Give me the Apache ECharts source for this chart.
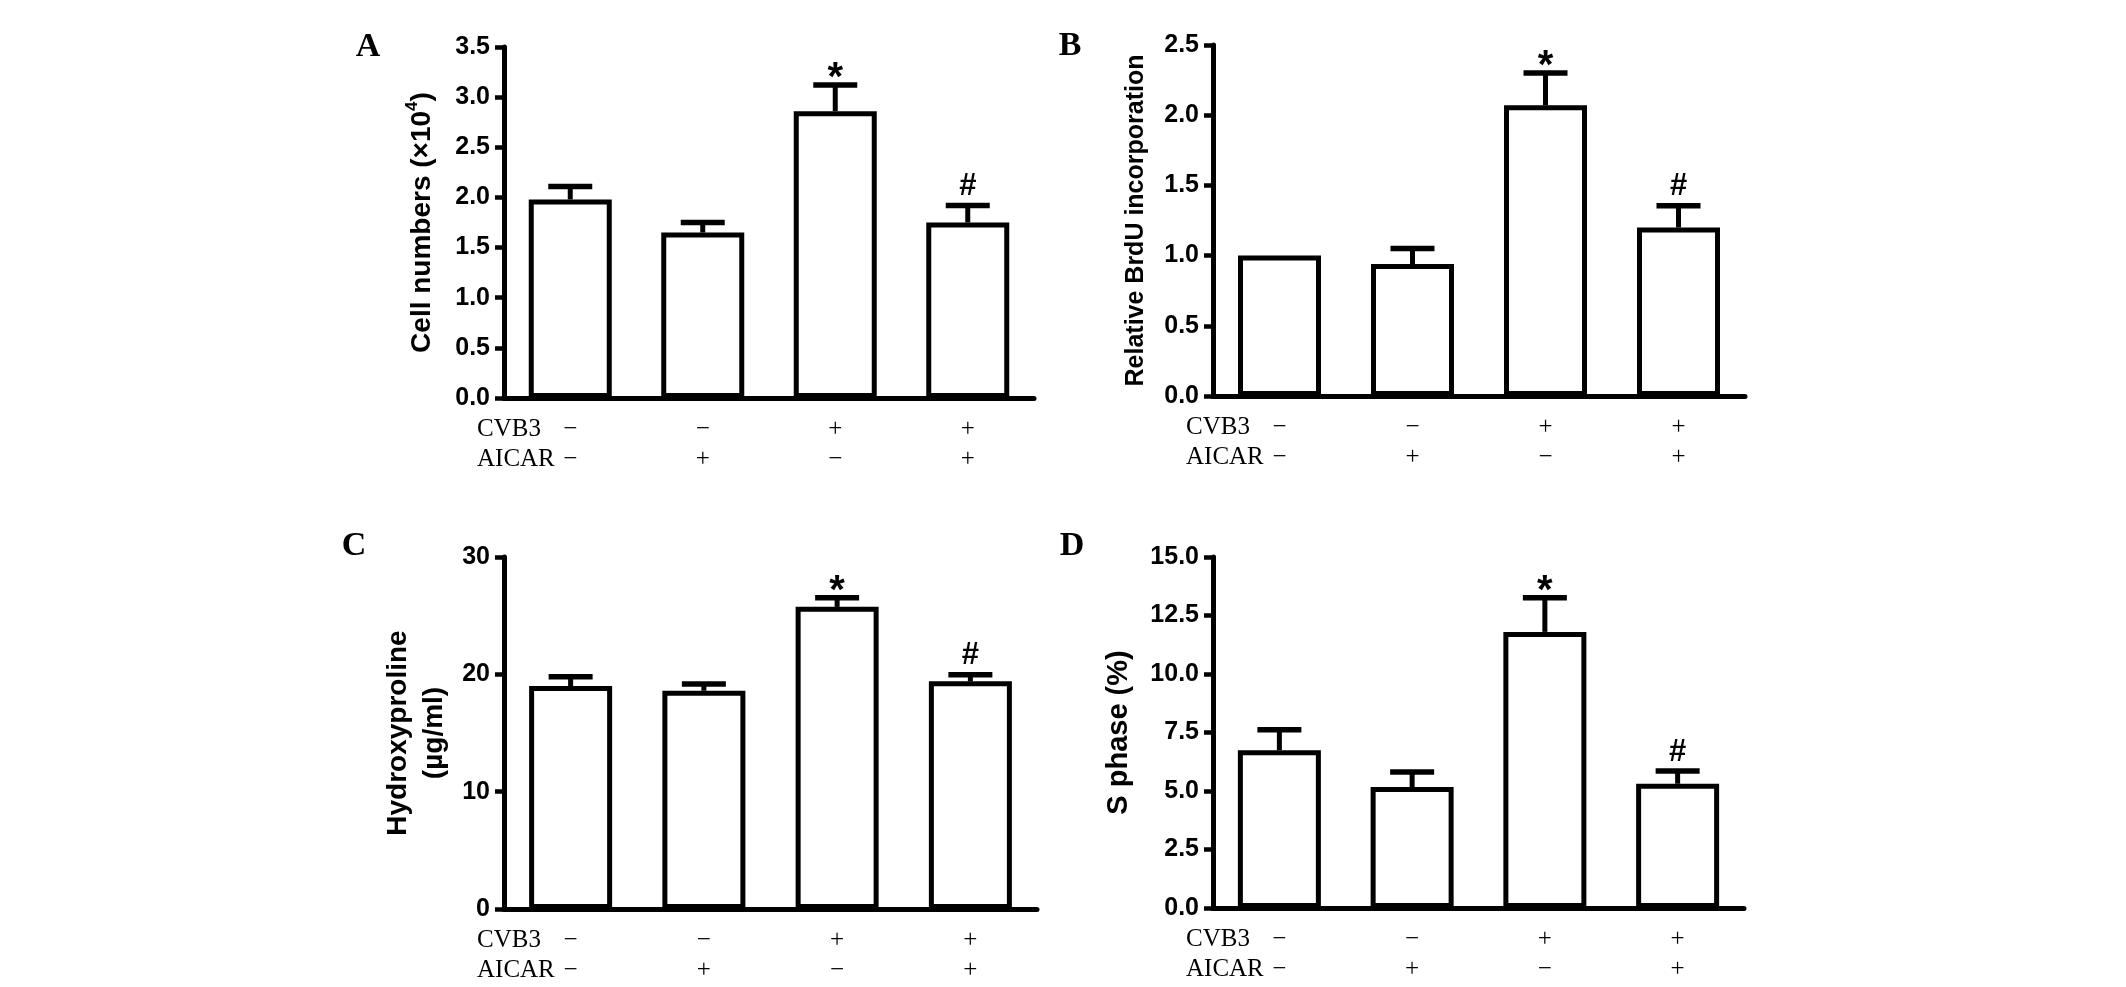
<!DOCTYPE html>
<html>
<head>
<meta charset="utf-8">
<script src="https://cdn.jsdelivr.net/npm/echarts@6/dist/echarts.min.js"></script>
<style>
html,body{margin:0;padding:0;background:#fff;}
#chart{width:2126px;height:987px;}
</style>
</head>
<body>
<div id="chart"></div>
<script>
// ---- data ----
const cvb3Signs = ['−', '−', '+', '+'];
const aicarSigns = ['−', '+', '−', '+'];
const rowNames = ['CVB3', 'AICAR'];
const sigMarks = ['', '', '*', '#'];

const cellMean = [1.98, 1.65, 2.86, 1.75];
const cellErr  = [0.13, 0.10, 0.26, 0.17];

const brduMean = [1.00, 0.94, 2.07, 1.20];
const brduErr  = [0, 0.11, 0.23, 0.155];

const hypMean = [19.0, 18.6, 25.75, 19.4];
const hypErr  = [0.8, 0.57, 0.77, 0.57];

const sMean = [6.74, 5.17, 11.8, 5.31];
const sErr  = [0.88, 0.64, 1.46, 0.54];

const panelLetters = ['A', 'B', 'C', 'D'];
const yTitles = [
  '{a|Cell numbers (×10}{s|4}{a|)}',
  'Relative BrdU incorporation',
  'Hydroxyproline\n(µg/ml)',
  'S phase (%)'
];
const yMaxes = [3.5, 2.5, 30, 15];
const yIntervals = [0.5, 0.5, 10, 2.5];
const yDecimals = [1, 1, 0, 1];

// ---- layout ----
const grids = [
  {left: 504, top: 47, width: 530, height: 351},
  {left: 1213, top: 45, width: 532, height: 351},
  {left: 504, top: 557, width: 533, height: 352},
  {left: 1213, top: 557, width: 531, height: 351}
];
const nameGaps = [64, 59, 52, 76];
const nameSizes = [28, 25, 28, 29];
const letterPos = [[368, 47], [1070, 46], [354, 546], [1072, 546]];

const means = [cellMean, brduMean, hypMean, sMean];
const errs = [cellErr, brduErr, hypErr, sErr];
const categories = cvb3Signs.map((c, i) => c + '\n' + aicarSigns[i]);

const SANS = '"Liberation Sans", Arial, sans-serif';
const SERIF = '"Liberation Serif", "Times New Roman", serif';

function makeRender(p) {
  return function (params, api) {
    const i = params.dataIndex;
    const m = api.value(1), e = api.value(2);
    const base = api.coord([api.value(0), m]);
    const top = api.coord([api.value(0), m + e]);
    const children = [];
    if (e > 0) {
      children.push({type: 'line', shape: {x1: base[0], y1: base[1], x2: top[0], y2: top[1]},
        style: {stroke: '#000', lineWidth: 5}});
      children.push({type: 'line', shape: {x1: top[0] - 22, y1: top[1], x2: top[0] + 22, y2: top[1]},
        style: {stroke: '#000', lineWidth: 5.5}});
    }
    const mk = sigMarks[i];
    if (mk) {
      const isStar = mk === '*';
      children.push({type: 'text', x: top[0], y: top[1] - (isStar ? 6 : 19),
        style: {text: mk, fill: '#000', align: 'center', verticalAlign: 'middle',
          font: (isStar ? 'bold 40px ' : 'bold 31px ') + SANS}});
    }
    return {type: 'group', children: children};
  };
}

const option = {
  backgroundColor: '#fff',
  animation: false,
  grid: grids.map(g => Object.assign({containLabel: false}, g)),
  xAxis: grids.map((g, p) => ({
    type: 'category', gridIndex: p, data: categories,
    axisLine: {lineStyle: {color: '#000', width: 5}},
    axisTick: {alignWithLabel: true, length: 11, lineStyle: {color: '#000', width: 4.5}},
    axisLabel: {color: '#000', fontFamily: SERIF, fontSize: 25, lineHeight: 30, margin: 16, interval: 0},
    splitLine: {show: false}
  })),
  yAxis: grids.map((g, p) => ({
    type: 'value', gridIndex: p, min: 0, max: yMaxes[p], interval: yIntervals[p],
    name: yTitles[p], nameLocation: 'middle', nameRotate: 90, nameGap: nameGaps[p],
    nameTextStyle: {color: '#000', fontFamily: SANS, fontWeight: 'bold', fontSize: nameSizes[p],
      lineHeight: 36,
      rich: {a: {fontFamily: SANS, fontWeight: 'bold', fontSize: nameSizes[p], color: '#000'},
             s: {fontFamily: SANS, fontWeight: 'bold', fontSize: 17, color: '#000', verticalAlign: 'top', padding: [0, 0, 10, 0]}}},
    axisLine: {show: true, lineStyle: {color: '#000', width: 5}},
    axisTick: {show: true, length: 9, lineStyle: {color: '#000', width: 4.5}},
    axisLabel: {color: '#000', fontFamily: SANS, fontWeight: 'bold', fontSize: 25, margin: 14,
      formatter: v => v.toFixed(yDecimals[p])},
    splitLine: {show: false}
  })),
  series: [].concat(
    means.map((arr, p) => ({
      type: 'bar', xAxisIndex: p, yAxisIndex: p, data: arr, barWidth: 83,
      itemStyle: {color: '#fff', borderColor: '#000', borderWidth: 5}, z: 2
    })),
    means.map((arr, p) => ({
      type: 'custom', xAxisIndex: p, yAxisIndex: p, z: 3,
      data: arr.map((v, i) => [i, v, errs[p][i]]),
      encode: {x: 0, y: 1},
      renderItem: makeRender(p)
    }))
  ),
  graphic: [].concat(
    panelLetters.map((L, p) => ({
      type: 'text', x: letterPos[p][0], y: letterPos[p][1],
      style: {text: L, font: 'bold 34px ' + SERIF, fill: '#000', align: 'center', verticalAlign: 'middle'}
    })),
    grids.map(g => ({
      type: 'text', x: g.left - 27, y: g.top + g.height + 31,
      style: {text: rowNames[0], font: '25px ' + SERIF, fill: '#000', align: 'left', verticalAlign: 'middle'}
    })),
    grids.map(g => ({
      type: 'text', x: g.left - 27, y: g.top + g.height + 61,
      style: {text: rowNames[1], font: '25px ' + SERIF, fill: '#000', align: 'left', verticalAlign: 'middle'}
    }))
  )
};

const chart = echarts.init(document.getElementById('chart'), null, {renderer: 'canvas'});
chart.setOption(option);
</script>
</body>
</html>
